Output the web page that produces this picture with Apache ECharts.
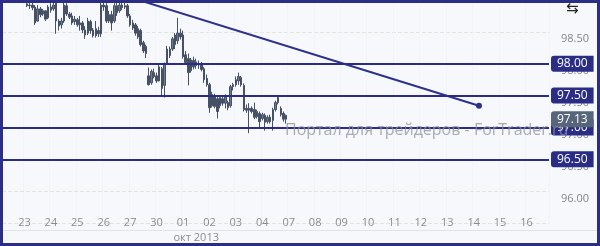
<!DOCTYPE html>
<html><head><meta charset="utf-8">
<script src="https://cdn.jsdelivr.net/npm/echarts@6/dist/echarts.min.js"></script>
<style>html,body{margin:0;padding:0;background:#f7f8fb}#c{width:600px;height:246px}</style>
</head><body><div id="c"></div>
<script>
// day labels (10 candle slots per trading day); '20' lies just off the left edge
const days = ['20','23','24','25','26','27','30','01','02','03','04','07','08','09','10','11','12','13','14','15','16'];
const monthLabel = 'окт 2013';
const monthSlot = 73;
const slotsPerDay = 10;
const firstSlot = 9;
const opens = [98.94,98.91,98.92,98.89,98.67,98.86,98.78,98.83,98.72,98.89,98.86,98.95,98.67,98.61,98.67,98.91,98.78,98.75,98.66,98.69,98.61,98.64,98.53,98.48,98.66,98.53,98.44,98.52,98.47,98.92,98.91,98.67,98.77,98.67,98.91,98.83,98.92,98.89,98.91,98.75,98.64,98.61,98.55,98.52,98.33,98.27,
97.81,97.70,97.86,97.81,97.73,97.92,97.66,98.00,98.23,98.23,98.30,98.36,98.48,98.45,98.14,98.08,97.89,98.05,97.97,97.98,98.00,97.92,97.77,97.67,97.34,97.50,97.45,97.34,97.45,97.38,97.39,97.34,97.64,97.67,97.73,97.78,97.66,97.30,97.27,97.30,97.28,97.17,97.22,97.14,97.19,97.09,97.16,97.11,97.28,97.39,97.30,97.22,97.19];
const closes = [98.91,98.92,98.88,98.64,98.86,98.77,98.83,98.70,98.89,98.84,98.92,98.67,98.59,98.67,98.92,98.78,98.73,98.64,98.70,98.61,98.64,98.53,98.45,98.67,98.52,98.44,98.55,98.47,98.92,98.89,98.67,98.77,98.64,98.91,98.80,98.92,98.88,98.91,98.75,98.61,98.56,98.48,98.42,98.30,98.20,98.16,
97.67,97.88,97.80,97.73,97.95,97.61,98.00,98.23,98.13,98.39,98.45,98.48,98.42,98.11,98.02,97.86,98.06,97.95,98.03,98.00,97.91,97.75,97.67,97.31,97.52,97.33,97.25,97.47,97.38,97.48,97.31,97.64,97.67,97.75,97.80,97.67,97.28,97.27,97.30,97.25,97.16,97.25,97.09,97.20,97.08,97.16,97.09,97.28,97.39,97.47,97.20,97.13,97.13];
const lows = [98.89,98.86,98.84,98.61,98.66,98.73,98.75,98.67,98.70,98.80,98.83,98.47,98.52,98.55,98.64,98.75,98.70,98.61,98.61,98.58,98.52,98.48,98.39,98.45,98.47,98.41,98.41,98.42,98.42,98.83,98.64,98.64,98.52,98.64,98.75,98.80,98.84,98.86,98.72,98.58,98.53,98.44,98.39,98.27,98.17,98.09,
97.66,97.67,97.77,97.70,97.72,97.50,97.47,97.98,98.09,98.20,98.23,98.31,98.38,98.08,97.98,97.66,97.86,97.91,97.92,97.92,97.88,97.70,97.64,97.23,97.31,97.30,97.14,97.30,97.34,97.30,97.27,97.31,97.58,97.64,97.67,97.64,97.25,97.23,96.91,97.22,97.13,97.14,97.00,97.11,96.95,97.06,97.06,96.95,97.25,97.36,97.17,97.09,97.06];
const highs = [99.06,99.02,98.98,98.92,98.92,98.89,98.86,98.84,98.92,98.95,99.03,99.03,98.70,98.72,99.02,98.95,98.81,98.80,98.75,98.72,98.75,98.67,98.59,98.72,98.69,98.56,98.67,98.58,99.03,99.03,98.95,98.83,98.83,98.95,98.97,99.02,99.02,98.98,98.94,98.78,98.69,98.64,98.59,98.55,98.36,98.30,
97.94,97.91,97.92,97.86,98.00,97.95,98.02,98.28,98.27,98.42,98.48,98.72,98.55,98.52,98.20,98.16,98.09,98.11,98.08,98.05,98.03,97.95,97.83,97.70,97.56,97.53,97.48,97.50,97.48,97.52,97.42,97.67,97.70,97.80,97.86,97.81,97.69,97.36,97.38,97.33,97.39,97.28,97.25,97.23,97.22,97.19,97.20,97.31,97.42,97.50,97.33,97.25,97.20];
const levels = [98.00, 97.50, 97.00, 96.50];
const lastPrice = 97.13;
const trendLine = [[45, 99.08], [180, 97.34]];
const watermark = 'Портал для трейдеров - ForTrader.ru';

const nSlots = days.length * slotsPerDay - 3;
const cats = [];
for (let i = 0; i < nSlots; i++) {
  const d = Math.floor((i + 2) / slotsPerDay);
  cats.push(days[d] + '#' + ((i + 2) % slotsPerDay) + '#' + i);
}
const candles = cats.map(() => '-');
for (let k = 0; k < opens.length; k++) {
  candles[firstSlot + k] = [opens[k], closes[k], lows[k], highs[k]];
}
const navy = '#2a2c86';
const FONT = 'Open Sans';
const levelLines = levels.map(v => ({
  yAxis: v,
  lineStyle: {color: navy, width: 2, type: 'solid', opacity: 1},
  label: {backgroundColor: navy}
}));
levelLines.push({
  yAxis: lastPrice,
  lineStyle: {color: 'rgba(0,0,0,0)', width: 1, type: 'solid'},
  label: {backgroundColor: '#56657a'}
});

const chart = echarts.init(document.getElementById('c'), null, {renderer: 'canvas'});
chart.setOption({
  animation: false,
  backgroundColor: '#f7f8fb',
  grid: {left: 2, right: 51, top: -1, bottom: 23, containLabel: false},
  xAxis: [{
    type: 'category', data: cats, boundaryGap: true, position: 'bottom', offset: -10,
    axisLine: {show: false, onZero: false}, axisTick: {show: false},
    axisLabel: {
      interval: (i) => (i + 2) % slotsPerDay === 0,
      formatter: (v) => v.split('#')[0],
      color: '#8c8c8c', fontSize: 11, fontFamily: FONT, margin: 4
    },
    splitLine: {show: true, interval: (i) => (i + 2) % slotsPerDay === 0,
      lineStyle: {color: '#eeeff3', width: 1, type: 'dotted'}}
  }, {
    type: 'category', data: cats, boundaryGap: true, position: 'bottom', offset: 4,
    axisLine: {show: false, onZero: false}, axisTick: {show: false}, splitLine: {show: false},
    axisLabel: {
      interval: (i) => i === monthSlot,
      formatter: () => monthLabel,
      color: '#8c8c8c', fontSize: 11, fontFamily: FONT, margin: 5
    }
  }],
  yAxis: {
    type: 'value', position: 'right', min: 95.5, max: 99, interval: 0.5, scale: true,
    axisLine: {show: false}, axisTick: {show: false},
    axisLabel: {
      formatter: (v) => v.toFixed(2), color: '#858585', fontSize: 11, fontFamily: FONT,
      margin: 12, verticalAlign: 'top', padding: [2, 0, 0, 0],
      showMinLabel: false, showMaxLabel: false
    },
    splitLine: {show: true, lineStyle: {color: '#e6e3dc', type: 'dashed', width: 1}}
  },
  series: [{
    type: 'candlestick',
    data: candles,
    barWidth: 2,
    itemStyle: {color: '#6f7a8e', color0: '#465165', borderColor: '#465165', borderColor0: '#465165', borderWidth: 1},
    markLine: {
      silent: true, symbol: ['none', 'none'], animation: false,
      label: {
        show: true, position: 'end', distance: 2,
        formatter: (p) => p.value.toFixed(2),
        color: '#ffffff', fontSize: 12, fontFamily: FONT, lineHeight: 12,
        padding: [2, 6, 2, 6], borderRadius: [3, 0, 0, 3]
      },
      data: levelLines
    }
  }, {
    type: 'line',
    data: trendLine.map((p, i) => ({value: p, symbol: i === trendLine.length - 1 ? 'circle' : 'none', symbolSize: 6})),
    lineStyle: {color: '#2e318c', width: 2},
    itemStyle: {color: '#2e318c'},
    showSymbol: true, showAllSymbol: true
  }],
  graphic: [{
    type: 'text', left: 285, top: 122, z: 10, silent: true,
    style: {text: watermark, fill: 'rgba(140,146,156,0.75)', font: '16px "Open Sans"'}
  }, {
    type: 'text', left: 566, top: 2, z: 10, silent: true,
    style: {text: '⇆', fill: '#222', font: '15px "DejaVu Sans"'}
  }, {
    type: 'line', z: 10, silent: true,
    shape: {x1: 3, y1: 230.5, x2: 597, y2: 230.5},
    style: {stroke: '#e3e3e3', lineWidth: 1}
  }, {
    type: 'rect', z: 100, silent: true,
    shape: {x: 1.5, y: 1.5, width: 597, height: 243},
    style: {fill: null, stroke: '#2c2e85', lineWidth: 3}
  }]
});
</script></body></html>
